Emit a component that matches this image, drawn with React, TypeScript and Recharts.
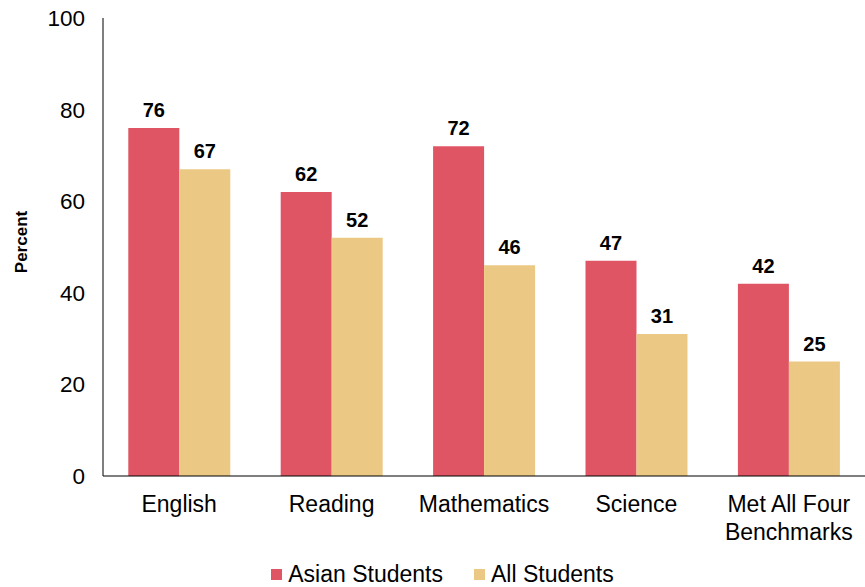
import { BarChart, Bar, XAxis, YAxis, Legend, LabelList } from 'recharts';

const categories = ['English', 'Reading', 'Mathematics', 'Science', 'Met All Four Benchmarks'];
const asianStudents = [76, 62, 72, 47, 42];
const allStudents = [67, 52, 46, 31, 25];
const yTicks = [0, 20, 40, 60, 80, 100];

const RED = '#E05563';
const GOLD = '#EBC883';
const FONT = '"Liberation Sans", Arial, Helvetica, sans-serif';

const data = categories.map((name, i) => ({
  name,
  asian: asianStudents[i],
  all: allStudents[i],
}));

// category names wrap onto two lines when long
const CategoryTick = (props: any) => {
  const { x, y, payload } = props;
  const words: string[] = payload.value.split(' ');
  const lines: string[] = [];
  if (words.length > 2) {
    lines.push(words.slice(0, 3).join(' '));
    lines.push(words.slice(3).join(' '));
  } else {
    lines.push(payload.value);
  }
  return (
    <text x={x} y={y} textAnchor="middle" fontSize={23} fill="#000" fontFamily={FONT}>
      {lines.map((line, i) => (
        <tspan key={i} x={x} dy={28}>{line}</tspan>
      ))}
    </text>
  );
};

const PercentLabel = (props: any) => {
  const { viewBox } = props;
  const cy = viewBox.y + viewBox.height / 2 - 5;
  return (
    <text
      x={27}
      y={cy}
      transform={`rotate(-90, 27, ${cy})`}
      textAnchor="middle"
      fontSize={17}
      fontWeight="bold"
      fill="#000"
      fontFamily={FONT}
    >
      Percent
    </text>
  );
};

const LegendContent = () => (
  <div style={{ height: 30, paddingLeft: 20, display: 'flex', justifyContent: 'center', alignItems: 'flex-end', fontFamily: FONT, fontSize: 23, color: '#000' }}>
    <span style={{ display: 'inline-flex', alignItems: 'center', marginRight: 31 }}>
      <span style={{ width: 11, height: 11, background: RED, marginRight: 6, display: 'inline-block' }} />
      Asian Students
    </span>
    <span style={{ display: 'inline-flex', alignItems: 'center' }}>
      <span style={{ width: 11, height: 11, background: GOLD, marginRight: 6, display: 'inline-block' }} />
      All Students
    </span>
  </div>
);

export default function App() {
  return (
    <div style={{ position: 'absolute', left: 0, top: 0, background: '#fff' }}>
      <BarChart
        width={865}
        height={587}
        data={data}
        margin={{ top: 18, right: 0, left: 10, bottom: 21 }}
        barCategoryGap="16.6%"
        barGap={0}
      >
        <XAxis
          dataKey="name"
          tick={<CategoryTick />}
          tickLine={false}
          axisLine={{ stroke: '#000', strokeWidth: 1.2 }}
          height={60}
          interval={0}
        />
        <YAxis
          domain={[0, 100]}
          ticks={yTicks}
          width={93}
          tickLine={false}
          tickMargin={12}
          axisLine={{ stroke: '#000', strokeWidth: 1 }}
          tick={{ fontSize: 22.5, fill: '#000', fontFamily: FONT }}
          label={<PercentLabel />}
        />
        <Legend
          verticalAlign="bottom"
          content={<LegendContent />}
          wrapperStyle={{ position: 'absolute', left: 0, width: 865, top: 558 }}
        />
        <Bar dataKey="asian" name="Asian Students" fill={RED} isAnimationActive={false}>
          <LabelList dataKey="asian" position="top" offset={11} style={{ fontSize: 20, fontWeight: 'bold', fill: '#000', fontFamily: FONT }} />
        </Bar>
        <Bar dataKey="all" name="All Students" fill={GOLD} isAnimationActive={false}>
          <LabelList dataKey="all" position="top" offset={11} style={{ fontSize: 20, fontWeight: 'bold', fill: '#000', fontFamily: FONT }} />
        </Bar>
      </BarChart>
    </div>
  );
}
